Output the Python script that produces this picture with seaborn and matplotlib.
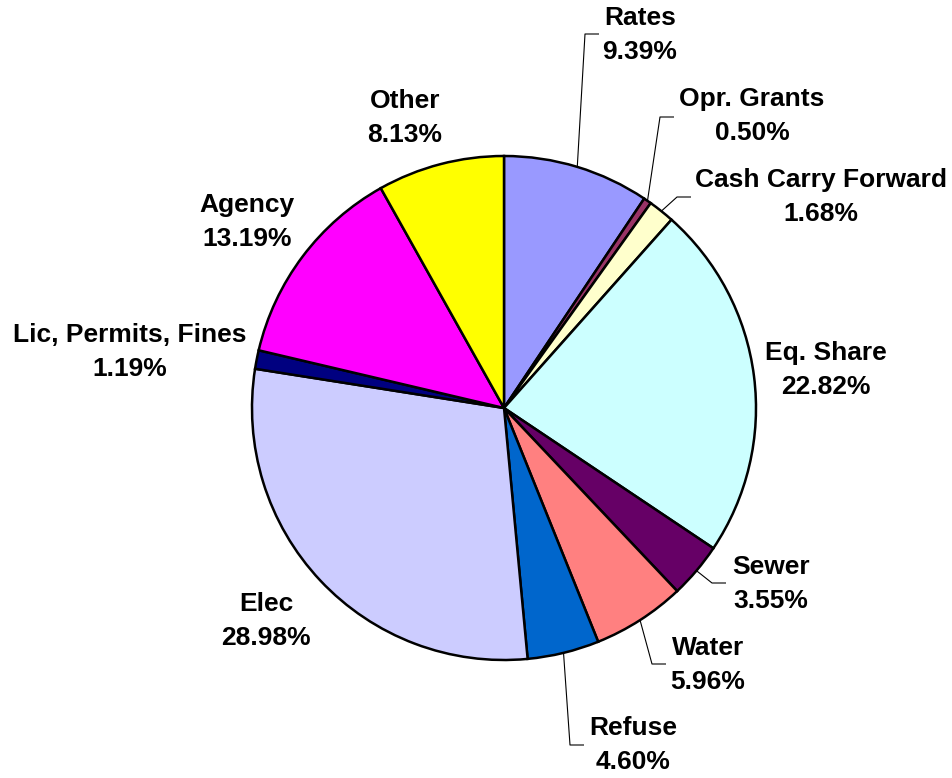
import numpy as np
import matplotlib
matplotlib.use("Agg")
import matplotlib.pyplot as plt
import seaborn as sns

# Revenue sources and their share of the total (%)
categories = ["Rates", "Opr. Grants", "Cash Carry Forward", "Eq. Share", "Sewer",
              "Water", "Refuse", "Elec", "Lic, Permits, Fines", "Agency", "Other"]
shares = [9.39, 0.50, 1.68, 22.82, 3.55, 5.96, 4.60, 28.98, 1.19, 13.19, 8.13]
colors = ["#9999FF", "#993366", "#FFFFCC", "#CCFFFF", "#660066", "#FF8080",
          "#0066CC", "#CCCCFF", "#000080", "#FF00FF", "#FFFF00"]

# Label layout in pixel space (x, y from top): text centre, and optional leader elbow
label_pos = [(640, 35), (752, 116), (821, 197), (826, 370), (771, 584),
             (708, 665), (633, 745), (266, 621), (130, 352), (247, 222), (405, 118)]
leader_elbow = [(585, 34), (660, 117), (677, 197), None, (712, 583),
                (652, 664), (570, 745), None, None, None, None]
leader_end_dx = 14

W, H = 953, 778
sns.set_theme(style="white")
plt.rcParams["font.family"] = ["Liberation Sans", "DejaVu Sans"]

fig = plt.figure(figsize=(W / 100, H / 100), dpi=100)
ax = fig.add_axes([0, 0, 1, 1])

cx, cy, r = 504, H - 408, 252
wedges, _ = ax.pie(shares, colors=colors, startangle=90, counterclock=False,
                   center=(cx, cy), radius=r,
                   wedgeprops=dict(edgecolor="black", linewidth=1.8))
ax.set_xlim(0, W)
ax.set_ylim(0, H)
ax.set_aspect("equal")
ax.axis("off")

for wedge, cat, val, (lx, ly), elbow in zip(wedges, categories, shares, label_pos, leader_elbow):
    ax.text(lx, H - ly, f"{cat}\n{val:.2f}%", ha="center", va="center",
            multialignment="center", fontsize=19, fontweight="bold",
            color="black", linespacing=1.5)
    if elbow is not None:
        mid = np.deg2rad((wedge.theta1 + wedge.theta2) / 2)
        sx, sy = cx + r * np.cos(mid), cy + r * np.sin(mid)
        ex, ey = elbow[0], H - elbow[1]
        ax.plot([sx, ex, ex + leader_end_dx], [sy, ey, ey],
                color="black", linewidth=0.8, solid_capstyle="butt")

fig.savefig("out.png", dpi=100)
